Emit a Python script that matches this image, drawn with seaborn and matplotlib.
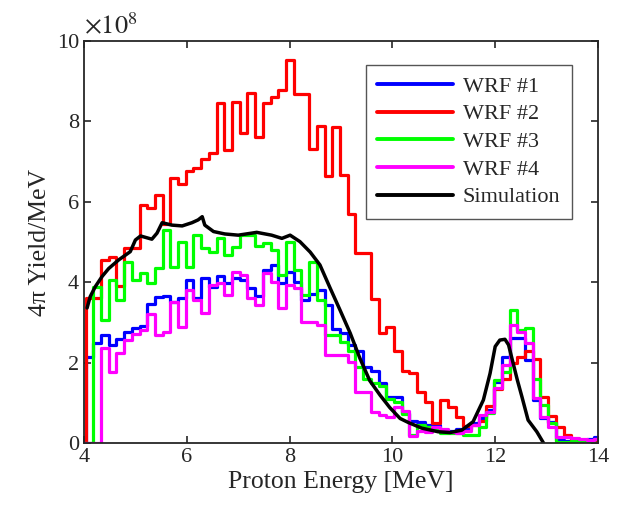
import numpy as np
import matplotlib
matplotlib.use("Agg")
import matplotlib.pyplot as plt
import seaborn as sns

# energy bins (MeV): first edge and bin width of the WRF spectra
first_edge = 4.03
bin_width = 0.15

# yield per bin (x1e8 / MeV)
wrf1 = [2.15, 2.49, 2.69, 2.44, 2.59, 2.77, 2.86, 2.91, 3.46, 3.64, 3.65, 3.51, 3.60, 4.05, 3.60, 4.10,
        3.89, 4.15, 3.98, 4.10, 4.05, 3.85, 3.66, 4.30, 4.43, 3.98, 4.26, 4.00, 3.56, 3.70, 3.80, 3.43,
        2.84, 2.73, 2.44, 2.30, 1.90, 1.80, 1.50, 1.15, 1.15, 0.75, 0.55, 0.53, 0.45, 0.45, 0.30, 0.30,
        0.35, 0.35, 0.50, 0.62, 0.82, 1.52, 2.15, 2.60, 2.62, 2.06, 1.07, 0.62, 0.53, 0.07, 0.05, 0.07,
        0.03, 0.10, 0.15]
wrf2 = [3.60, 3.60, 4.55, 4.63, 3.90, 4.85, 4.85, 5.92, 5.85, 6.17, 5.45, 6.60, 6.45, 6.77, 6.84, 7.06,
        7.22, 8.46, 7.29, 8.48, 7.71, 8.71, 7.62, 8.46, 8.61, 8.78, 9.53, 8.68, 8.68, 7.31, 7.89, 6.64,
        7.86, 6.67, 5.70, 4.73, 4.73, 3.58, 2.73, 2.88, 2.29, 1.78, 1.75, 1.27, 1.03, 0.50, 1.08, 0.90,
        0.65, 0.42, 0.45, 0.55, 0.92, 1.35, 1.60, 2.00, 2.15, 2.30, 2.10, 1.14, 0.67, 0.41, 0.20, 0.05,
        0.05, 0.02, 0.05]
wrf3 = [0.00, 3.89, 3.06, 4.05, 3.56, 4.51, 4.05, 4.22, 3.97, 4.35, 5.30, 4.39, 5.01, 4.39, 5.17, 4.84,
        4.76, 5.10, 4.68, 4.88, 5.17, 5.17, 4.90, 4.97, 4.80, 4.18, 5.01, 4.30, 3.68, 4.51, 3.56, 2.69,
        2.69, 2.52, 2.30, 1.90, 1.60, 1.50, 1.42, 1.10, 1.03, 0.72, 0.20, 0.45, 0.40, 0.35, 0.25, 0.25,
        0.25, 0.20, 0.20, 0.41, 0.75, 1.57, 1.77, 3.31, 2.81, 2.86, 1.60, 0.94, 0.50, 0.03, 0.03, 0.05,
        0.03, 0.05, 0.10]
wrf4 = [0.00, 0.00, 2.36, 1.77, 2.25, 2.56, 2.71, 2.80, 3.21, 2.69, 2.77, 3.51, 2.89, 3.80, 3.56, 3.23,
        3.93, 3.98, 3.68, 4.26, 4.18, 3.60, 3.43, 4.23, 4.01, 3.36, 3.93, 3.85, 3.02, 3.02, 2.94, 2.19,
        2.19, 2.19, 2.02, 1.28, 1.28, 0.78, 0.70, 0.65, 0.90, 0.80, 0.17, 0.30, 0.28, 0.41, 0.35, 0.28,
        0.25, 0.30, 0.45, 0.70, 0.78, 1.36, 1.94, 2.94, 2.77, 2.49, 1.12, 0.65, 0.41, 0.16, 0.16, 0.12,
        0.10, 0.08, 0.10]

sim_energy = [4.06, 4.12, 4.22, 4.35, 4.48, 4.67, 4.90, 5.00, 5.10, 5.32, 5.42, 5.52, 5.71, 5.91, 6.10,
              6.22, 6.30, 6.35, 6.52, 6.74, 7.00, 7.26, 7.36, 7.65, 7.85, 8.01, 8.20, 8.40, 8.59, 8.79,
              8.98, 9.18, 9.37, 9.56, 9.76, 9.95, 10.15, 10.31, 10.57, 10.89, 11.12, 11.35, 11.57,
              11.77, 11.90, 12.00, 12.09, 12.19, 12.26, 12.35, 12.43, 12.52, 12.64, 12.81, 12.94]
sim_yield = [3.36, 3.64, 3.89, 4.14, 4.34, 4.55, 4.76, 5.05, 5.15, 5.07, 5.22, 5.48, 5.42, 5.40, 5.48,
             5.55, 5.63, 5.42, 5.26, 5.20, 5.17, 5.22, 5.24, 5.17, 5.09, 5.17, 5.01, 4.75, 4.43, 3.85,
             3.31, 2.73, 2.10, 1.55, 1.19, 0.88, 0.61, 0.51, 0.37, 0.28, 0.26, 0.32, 0.53, 1.07,
             1.73, 2.40, 2.56, 2.58, 2.44, 1.98, 1.57, 1.15, 0.57, 0.28, 0.00]

labels = ["WRF #1", "WRF #2", "WRF #3", "WRF #4"]
colors = ["#0000ff", "#ff0000", "#00ff00", "#ff00ff"]

sns.set_style("ticks")
plt.rcParams['font.family'] = ['Liberation Serif', 'DejaVu Serif']
plt.rcParams['mathtext.fontset'] = 'stix'

fig = plt.figure(figsize=(6.2, 5.15), dpi=100)
ax = fig.add_axes([0.1355, 0.1398, 0.829, 0.7806])

for vals, lab, col in zip([wrf1, wrf2, wrf3, wrf4], labels, colors):
    n = len(vals)
    edges = first_edge + bin_width * np.arange(n + 1)
    # start from zero one bin before the first edge so the step rises from the axis
    x = np.concatenate([[first_edge - bin_width], edges])
    y = np.concatenate([[0.0], vals, [vals[-1]]])
    sns.lineplot(x=x, y=y, drawstyle="steps-post", color=col, lw=2.3, label=lab, ax=ax)

sns.lineplot(x=sim_energy, y=sim_yield, color="black", lw=2.5, label="Simulation", ax=ax)

ax.set_xlim(4, 14)
ax.set_ylim(0, 10)
ax.set_xticks([4, 6, 8, 10, 12, 14])
ax.set_yticks([0, 2, 4, 6, 8, 10])
ax.tick_params(direction="in", top=True, right=True, length=5, width=1.2,
               labelsize=16, colors="#262626")
for s in ax.spines.values():
    s.set_linewidth(1.3)
    s.set_color("#262626")

ax.set_xlabel("Proton Energy [MeV]", fontsize=18.5, color="#262626", labelpad=3)
ax.set_ylabel("4π Yield/MeV", fontsize=18.5, color="#262626")
ax.text(0.0, 1.005, r"$\times10^{8}$", transform=ax.transAxes, ha="left", va="bottom",
        fontsize=19, color="#262626")

h, l = ax.get_legend_handles_labels()
leg = ax.legend(h, l, loc="upper left", bbox_to_anchor=(0.549, 0.94), borderaxespad=0,
                fontsize=16, handlelength=3.4, handletextpad=0.45, labelspacing=0.32,
                fancybox=False, framealpha=1, edgecolor="#555555", borderpad=0.5)
leg.get_frame().set_linewidth(1.0)
for line in leg.get_lines():
    line.set_linewidth(2.8)

fig.savefig("out.png", dpi=100)
